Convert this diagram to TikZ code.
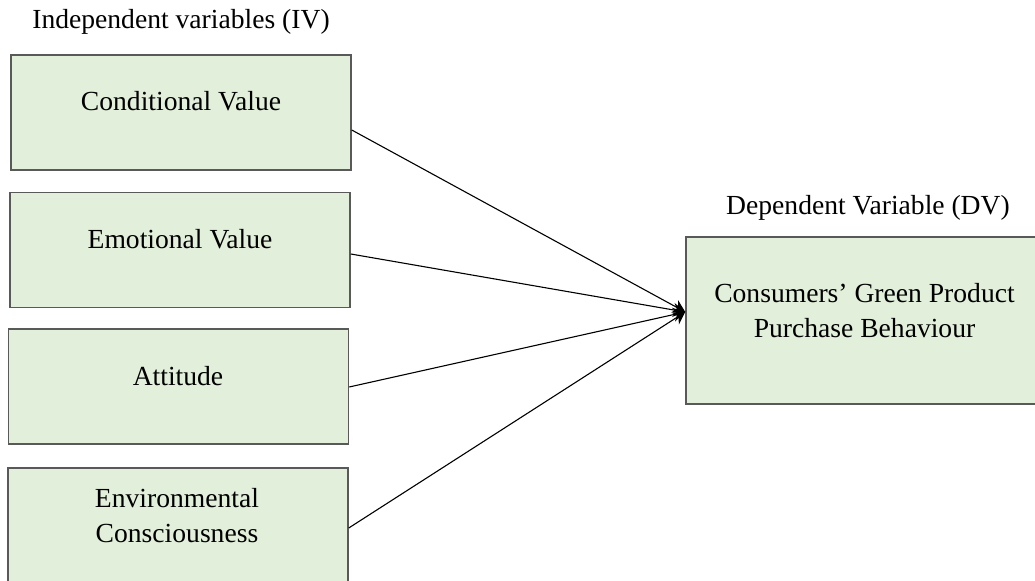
\documentclass[tikz,border=0pt]{standalone}
\usepackage{fontspec}
\setmainfont{Liberation Serif}
\usetikzlibrary{arrows.meta,calc}

\definecolor{boxgreen}{HTML}{E2EFDA}
\definecolor{boxgray}{HTML}{595959}

\tikzset{
	varbox/.style={draw=boxgray, fill=boxgreen, line width=0.75pt, inner sep=0pt,
		minimum width=170pt, minimum height=57.5pt},
	varlabel/.style={inner sep=0pt, align=center, font=\fontsize{13.8}{17.5}\selectfont},
	link/.style={black, line width=0.55pt, -{Stealth[length=6pt,width=7pt]}}
}

\begin{document}
\begin{tikzpicture}[x=0.5pt, y=-0.5pt]
		% Fix the frame
		\clip (0,0) rectangle (1035,581);

		% Draw the independent variable boxes
		\node[varbox] (cond) at (181,112.5) {};
		\node[varbox] (emo) at (180,250) {};
		\node[varbox] (att) at (178.5,386.5) {};
		\node[varbox, minimum height=58pt] (env) at (178,526) {};

		% Draw the dependent variable box
		\node[varbox, minimum width=178.5pt, minimum height=83.5pt] (dv) at (864.5,320.5) {};

		% Put the texts
		\node[varlabel, anchor=base] (ivhead) at (181,29) {Independent variables (IV)};
		\node[varlabel, anchor=base] (dvhead) at (868,215) {Dependent Variable (DV)};
		\node[varlabel, anchor=base] (condtext) at (181,111) {Conditional Value};
		\node[varlabel, anchor=base] (emotext) at (180,249) {Emotional Value};
		\node[varlabel, anchor=base] (atttext) at (178,386) {Attitude};
		\node[varlabel] (envtext) at (177,515.5) {Environmental\\Consciousness};
		\node[varlabel] (dvtext) at (864.5,311) {Consumers’ Green Product\\Purchase Behaviour};

		% Draw the links into the dependent variable
		\coordinate (hub) at ($(dv.west)+(0,-8.5)$);
		\draw[link] ($(cond.east)+(0,17.5)$) -- (hub);
		\draw[link] ($(emo.east)+(0,4)$) -- (hub);
		\draw[link] ($(att.east)+(0,0.5)$) -- (hub);
		\draw[link] ($(env.east)+(0,2)$) -- (hub);

	\end{tikzpicture}
\end{document}
